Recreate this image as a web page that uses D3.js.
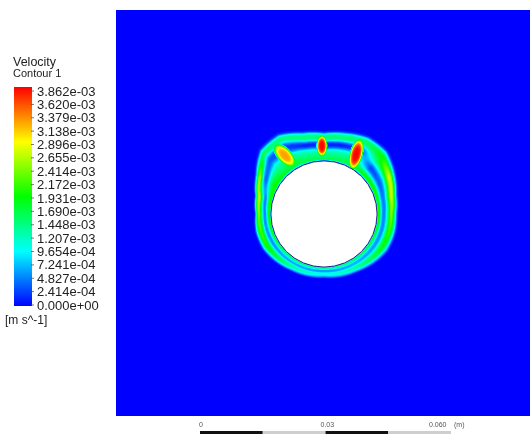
<!DOCTYPE html>
<html>
<head>
<meta charset="utf-8">
<script src="https://cdn.jsdelivr.net/npm/d3@7"></script>
<style>
  body { margin: 0; background: #fff; }
  #wrap { position: relative; width: 530px; height: 434px; overflow: hidden; }
  canvas, svg { position: absolute; left: 0; top: 0; }
  canvas { filter: blur(0.6px); }
  text { font-family: "Liberation Sans", Arial, sans-serif; }
</style>
</head>
<body>
<div id="wrap"><canvas></canvas><svg></svg></div>
<script>
// Velocity in mm/s (x 1e-3 m s^-1), geometry in mm, origin at cylinder centre.
const vMax = 3.862;
const cylinderRadius = 12.7;

// Angle clockwise from top (deg) and thickness of the moving layer there (mm).
const angles = [0, 15, 30, 45, 60, 75, 90, 105, 120, 150, 180, 210, 240, 255, 270, 285, 300, 315, 330, 345];
const layerDepth = [6.7, 7.4, 8.4, 8.4, 6.9, 5.4, 4.8, 5.0, 5.0, 3.4, 2.7, 3.1, 4.3, 4.3, 3.8, 4.4, 6.2, 8.8, 9.1, 7.4];

// Position across the layer (0 = wall, 1 = outer edge).
const layers = [0, 0.06, 0.12, 0.18, 0.24, 0.3, 0.36, 0.42, 0.48, 0.54, 0.6, 0.66, 0.72, 0.78, 0.84, 0.9, 0.96, 1.02, 1.08];

// Velocity across the layer, one row per angle.
const profiles = [
  [0.4, 1.7, 1.6, 1.5, 1.4, 1.3, 1.1, 0.7, 0.3, 0.15, 0.15, 0.5, 1.1, 1.45, 1.5, 1.4, 0.9, 0.2, 0],
  [0.4, 1.7, 1.6, 1.5, 1.4, 1.3, 1.2, 0.9, 0.45, 0.15, 0.12, 0.4, 1.0, 1.45, 1.5, 1.4, 0.9, 0.2, 0],
  [0.4, 1.7, 1.7, 1.6, 1.5, 1.4, 1.2, 0.9, 0.6, 0.35, 0.3, 0.5, 1.0, 1.4, 1.5, 1.5, 1.0, 0.2, 0],
  [0.4, 1.9, 1.8, 1.3, 0.7, 0.35, 0.25, 0.4, 0.8, 1.2, 1.5, 1.7, 1.8, 1.9, 1.9, 1.6, 1.0, 0.2, 0],
  [0.4, 2.0, 1.9, 1.4, 0.8, 0.45, 0.35, 0.45, 0.7, 1.1, 1.7, 2.3, 2.7, 2.7, 2.3, 1.5, 0.7, 0.1, 0],
  [0.4, 2.0, 1.9, 1.4, 0.8, 0.5, 0.45, 0.6, 1.0, 1.5, 2.0, 2.5, 2.7, 2.6, 2.1, 1.4, 0.6, 0.1, 0],
  [0.4, 2.0, 1.8, 1.2, 0.7, 0.5, 0.5, 0.7, 1.1, 1.5, 1.9, 2.3, 2.4, 2.1, 1.6, 1.1, 0.5, 0.1, 0],
  [0.4, 1.9, 1.7, 1.1, 0.7, 0.5, 0.55, 0.8, 1.2, 1.6, 1.9, 2.1, 2.1, 1.8, 1.4, 1.0, 0.4, 0.05, 0],
  [0.4, 1.8, 1.5, 1.0, 0.65, 0.55, 0.65, 0.9, 1.3, 1.6, 1.8, 1.9, 1.8, 1.5, 1.1, 0.7, 0.3, 0.05, 0],
  [0.4, 1.5, 1.5, 1.2, 0.9, 0.7, 0.65, 0.75, 1.0, 1.2, 1.3, 1.3, 1.2, 1.0, 0.8, 0.5, 0.2, 0, 0],
  [0.4, 1.3, 1.3, 1.1, 0.8, 0.6, 0.55, 0.65, 0.85, 1.0, 1.05, 1.0, 0.9, 0.75, 0.55, 0.35, 0.15, 0, 0],
  [0.4, 1.5, 1.5, 1.2, 0.9, 0.7, 0.65, 0.75, 1.0, 1.2, 1.3, 1.3, 1.2, 1.0, 0.8, 0.5, 0.2, 0, 0],
  [0.4, 1.8, 1.6, 1.1, 0.7, 0.55, 0.6, 0.9, 1.3, 1.7, 1.9, 2.0, 1.9, 1.6, 1.2, 0.8, 0.3, 0.05, 0],
  [0.4, 1.9, 1.8, 1.3, 0.8, 0.6, 0.55, 0.75, 1.2, 1.7, 2.0, 2.2, 2.2, 1.9, 1.5, 1.0, 0.4, 0.05, 0],
  [0.4, 1.9, 2.0, 1.7, 1.2, 0.7, 0.5, 0.5, 0.8, 1.2, 1.6, 2.1, 2.5, 2.4, 2.0, 1.4, 0.6, 0.1, 0],
  [0.4, 1.9, 2.0, 1.8, 1.4, 0.9, 0.55, 0.45, 0.7, 1.1, 1.7, 2.3, 2.7, 2.7, 2.2, 1.5, 0.7, 0.1, 0],
  [0.4, 1.9, 2.0, 1.9, 1.8, 1.6, 1.3, 0.9, 0.5, 0.35, 0.5, 1.0, 1.9, 2.6, 2.5, 1.6, 0.7, 0.1, 0],
  [0.4, 1.8, 1.8, 1.6, 1.5, 1.4, 1.3, 1.1, 0.8, 0.5, 0.35, 0.35, 0.6, 1.1, 1.5, 1.6, 1.0, 0.2, 0],
  [0.4, 1.7, 1.7, 1.6, 1.5, 1.4, 1.3, 1.0, 0.6, 0.35, 0.25, 0.25, 0.5, 1.0, 1.4, 1.5, 1.0, 0.2, 0],
  [0.4, 1.7, 1.6, 1.5, 1.4, 1.3, 1.2, 0.9, 0.45, 0.15, 0.12, 0.4, 1.0, 1.45, 1.5, 1.4, 0.9, 0.2, 0]
];

// Local maxima above the cylinder: centre (mm), semi-axes (mm), tilt (deg), peak (mm/s).
const hotspots = [
  { x: -9.4, y: 14.0, a: 3.9, b: 1.9, tilt: -47, peak: 3.25 },
  { x: -0.5, y: 16.3, a: 1.4, b: 2.8, tilt: 0, peak: 3.86 },
  { x: 7.7, y: 14.3, a: 1.7, b: 4.2, tilt: -15, peak: 3.86 }
];

const legendLabels = ['3.862e-03', '3.620e-03', '3.379e-03', '3.138e-03', '2.896e-03', '2.655e-03',
  '2.414e-03', '2.172e-03', '1.931e-03', '1.690e-03', '1.448e-03', '1.207e-03', '9.654e-04',
  '7.241e-04', '4.827e-04', '2.414e-04', '0.000e+00'];

const rulerTicks = [0, 0.03, 0.06];
const rulerLabels = ['0', '0.03', '0.060'];

// Set up.
const width = 530;
const height = 434;
const field = { left: 116, top: 10, right: 530, bottom: 416 };
const centre = [324, 214];
const pxPerMm = 4.18;

const x = d3.scaleLinear().domain([0, 1]).range([centre[0], centre[0] + pxPerMm]);
const y = d3.scaleLinear().domain([0, 1]).range([centre[1], centre[1] - pxPerMm]);

const colour = d3.scaleLinear()
  .domain([0, 0.25, 0.5, 0.75, 1].map(f => f * vMax))
  .range(['#0000ff', '#00ffff', '#00ff00', '#ffff00', '#ff0000'])
  .clamp(true);

// Sample one angle's profile at a distance d from the wall.
function sampleProfile(k, d) {
  const s = d / layerDepth[k];
  const i = d3.bisectRight(layers, s) - 1;
  if (i >= layers.length - 1) return 0;
  const f = (s - layers[i]) / (layers[i + 1] - layers[i]);
  const p = profiles[k];
  return p[i] + (p[i + 1] - p[i]) * f;
}

function velocityAt(X, Y) {
  const d = Math.hypot(X, Y) - cylinderRadius;
  if (d < 0) return null;
  let th = Math.atan2(X, Y) * 180 / Math.PI;
  if (th < 0) th += 360;
  const k = d3.bisectRight(angles, th) - 1;
  const k2 = (k + 1) % angles.length;
  const a1 = k2 === 0 ? 360 : angles[k2];
  const t = (th - angles[k]) / (a1 - angles[k]);
  // Blend the depth so the bands follow the layer shape between samples.
  const depth = layerDepth[k] + (layerDepth[k2] - layerDepth[k]) * t;
  const vp = sampleProfile(k, d * layerDepth[k] / depth);
  const vq = sampleProfile(k2, d * layerDepth[k2] / depth);
  let v = vp + (vq - vp) * t;
  hotspots.forEach(h => {
    const r = h.tilt * Math.PI / 180;
    const dx = X - h.x, dy = Y - h.y;
    const u = (dx * Math.cos(r) + dy * Math.sin(r)) / h.a;
    const w = (-dx * Math.sin(r) + dy * Math.cos(r)) / h.b;
    const r2 = u * u + w * w;
    if (r2 < 1) v = Math.max(v, h.peak * (1 - r2 * r2));
  });
  return v;
}

// Colour lookup.
const lut = d3.range(513).map(i => d3.rgb(colour(i / 512 * vMax)));

const canvas = d3.select('canvas').attr('width', width).attr('height', height);
const context = canvas.node().getContext('2d');
context.fillStyle = '#fff';
context.fillRect(0, 0, width, height);

const fw = field.right - field.left;
const fh = field.bottom - field.top;
const img = context.createImageData(fw, fh);
for (let j = 0; j < fh; j++) {
  for (let i = 0; i < fw; i++) {
    const v = velocityAt(x.invert(field.left + i + 0.5), y.invert(field.top + j + 0.5));
    const n = (j * fw + i) * 4;
    if (v === null) {
      img.data[n] = img.data[n + 1] = img.data[n + 2] = 255;
    } else {
      const c = lut[Math.round(Math.min(v, vMax) / vMax * 512)];
      img.data[n] = c.r; img.data[n + 1] = c.g; img.data[n + 2] = c.b;
    }
    img.data[n + 3] = 255;
  }
}
context.putImageData(img, field.left, field.top);

// Overlay.
const svg = d3.select('svg').attr('width', width).attr('height', height);

svg.append('circle')
  .attr('cx', x(0))
  .attr('cy', y(0))
  .attr('r', x(cylinderRadius) - x(0))
  .attr('fill', '#fff')
  .attr('stroke', '#20208a')
  .attr('stroke-width', 1);

// Legend.
const legendY = d3.scaleLinear().domain([0, vMax * 1e-3]).range([305, 91]);

const grad = svg.append('defs').append('linearGradient')
  .attr('id', 'bar').attr('x1', 0).attr('y1', 1).attr('x2', 0).attr('y2', 0);
grad.selectAll('stop')
  .data([0, 0.25, 0.5, 0.75, 1])
  .join('stop')
  .attr('offset', d => d)
  .attr('stop-color', d => colour(d * vMax));

svg.append('rect')
  .attr('x', 14).attr('y', 87)
  .attr('width', 18).attr('height', 219)
  .attr('fill', 'url(#bar)');

svg.selectAll('.tick')
  .data(legendLabels)
  .join('line')
  .attr('class', 'tick')
  .attr('x1', 31).attr('x2', 34)
  .attr('y1', d => legendY(+d)).attr('y2', d => legendY(+d))
  .attr('stroke', '#555').attr('stroke-width', 0.8);

svg.selectAll('.lab')
  .data(legendLabels)
  .join('text')
  .attr('class', 'lab')
  .attr('x', 37)
  .attr('y', d => legendY(+d) + 4.5)
  .attr('font-size', 13)
  .attr('fill', '#222')
  .text(d => d);

svg.append('text').attr('x', 13).attr('y', 66).attr('font-size', 12.5).attr('fill', '#222').text('Velocity');
svg.append('text').attr('x', 13).attr('y', 77).attr('font-size', 11).attr('fill', '#222').text('Contour 1');
svg.append('text').attr('x', 5).attr('y', 324).attr('font-size', 12).attr('fill', '#222').text('[m s^-1]');

// Ruler.
const ruler = d3.scaleLinear().domain([0, 0.06]).range([200, 451]);
const quarters = [0, 0.015, 0.03, 0.045];
svg.selectAll('.seg')
  .data(quarters)
  .join('rect')
  .attr('class', 'seg')
  .attr('x', d => ruler(d))
  .attr('y', 431)
  .attr('width', ruler(0.015) - ruler(0))
  .attr('height', 4)
  .attr('fill', (d, i) => i % 2 ? '#cfcfcf' : '#111');

svg.selectAll('.rlab')
  .data(rulerTicks)
  .join('text')
  .attr('class', 'rlab')
  .attr('x', (d, i) => ruler(d) - [1, 5, 22][i])
  .attr('y', 427)
  .attr('font-size', 7)
  .attr('fill', '#555')
  .text((d, i) => rulerLabels[i]);
svg.append('text').attr('x', 454).attr('y', 427).attr('font-size', 7).attr('fill', '#555').text('(m)');
</script>
</body>
</html>
